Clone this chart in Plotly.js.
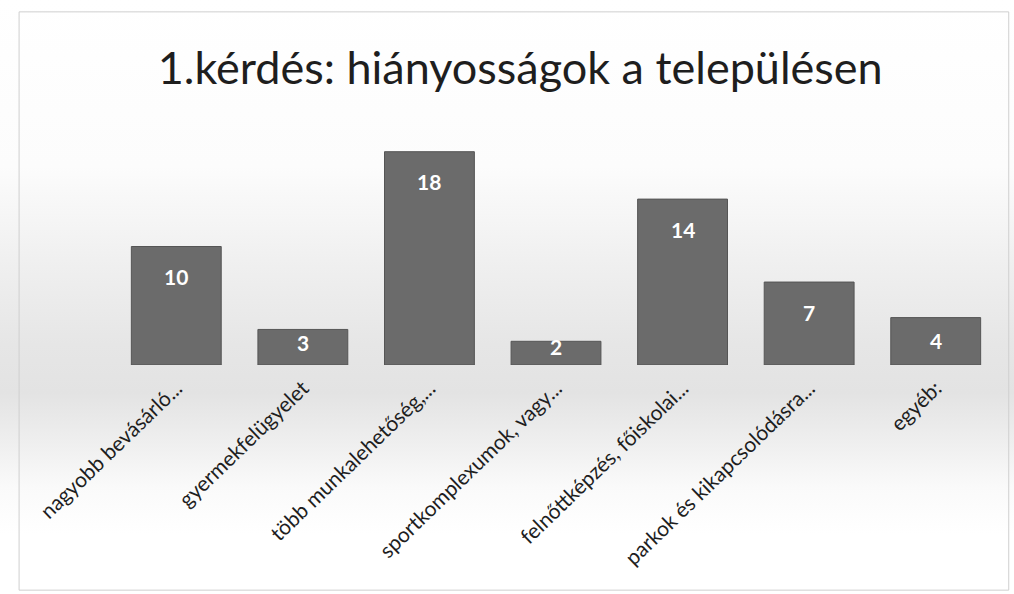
<!DOCTYPE html>
<html><head><meta charset="utf-8">
<script src="https://cdn.plot.ly/plotly-3.0.1.min.js"></script>
<style>
html,body{margin:0;padding:0;}
body{width:1014px;height:594px;background:linear-gradient(to bottom,#ffffff 0%,#fcfcfc 28%,#efefef 45%,#e6e6e6 58%,#e3e3e3 66%,#eeeeee 74%,#fafafa 82%,#ffffff 90%,#ffffff 100%);}
#chart{width:1014px;height:594px;}
</style></head>
<body><div id="chart"></div>
<script>
const categories = ["nagyobb bevásárló...", "gyermekfelügyelet", "több munkalehetőség,...", "sportkomplexumok, vagy...", "felnőttképzés, főiskolai...", "parkok és kikapcsolódásra...", "egyéb:"];
const values = [10, 3, 18, 2, 14, 7, 4];
const titleText = "1.kérdés: hiányosságok a településen";

const barTrace = {
  type: "bar", x: categories, y: values,
  marker: {color: "#6b6b6b", line: {color: "#555555", width: 1}},
  width: 0.71, hoverinfo: "skip", showlegend: false
};

const annotations = values.map((v, i) => ({
  x: categories[i], y: v, xref: "x", yref: "y",
  text: String(v), showarrow: false, yanchor: "middle",
  yshift: -Math.min(30, v * v * 1.4),
  font: {family: "Lato, 'Open Sans', sans-serif", size: 21, color: "#ffffff", weight: "bold"}
}));

const layout = {
  width: 1014, height: 594,
  paper_bgcolor: "rgba(0,0,0,0)", plot_bgcolor: "rgba(0,0,0,0)",
  margin: {l: 113, r: 15, t: 128, b: 229},
  title: {text: titleText, x: 0.513, xanchor: "center", y: 0.885, yanchor: "middle",
          font: {family: "Lato, 'Open Sans', sans-serif", size: 45, color: "#1e1e1e"}},
  xaxis: {type: "category", tickangle: -44, showline: false, showgrid: false, zeroline: false,
          ticks: "", ticklabelshift: 0, ticklabelstandoff: 6,
          tickfont: {family: "Lato, 'Open Sans', sans-serif", size: 21, color: "#1e1e1e"}},
  yaxis: {range: [0, 20], visible: false, showgrid: false, zeroline: false},
  annotations: annotations,
  shapes: [{type: "rect", xref: "paper", yref: "paper", x0: -0.106, x1: 1.011, y0: -0.95, y1: 1.49,
            line: {color: "#cfcfcf", width: 1}}]
};

Plotly.newPlot("chart", [barTrace], layout, {displayModeBar: false, staticPlot: true});
</script></body></html>
